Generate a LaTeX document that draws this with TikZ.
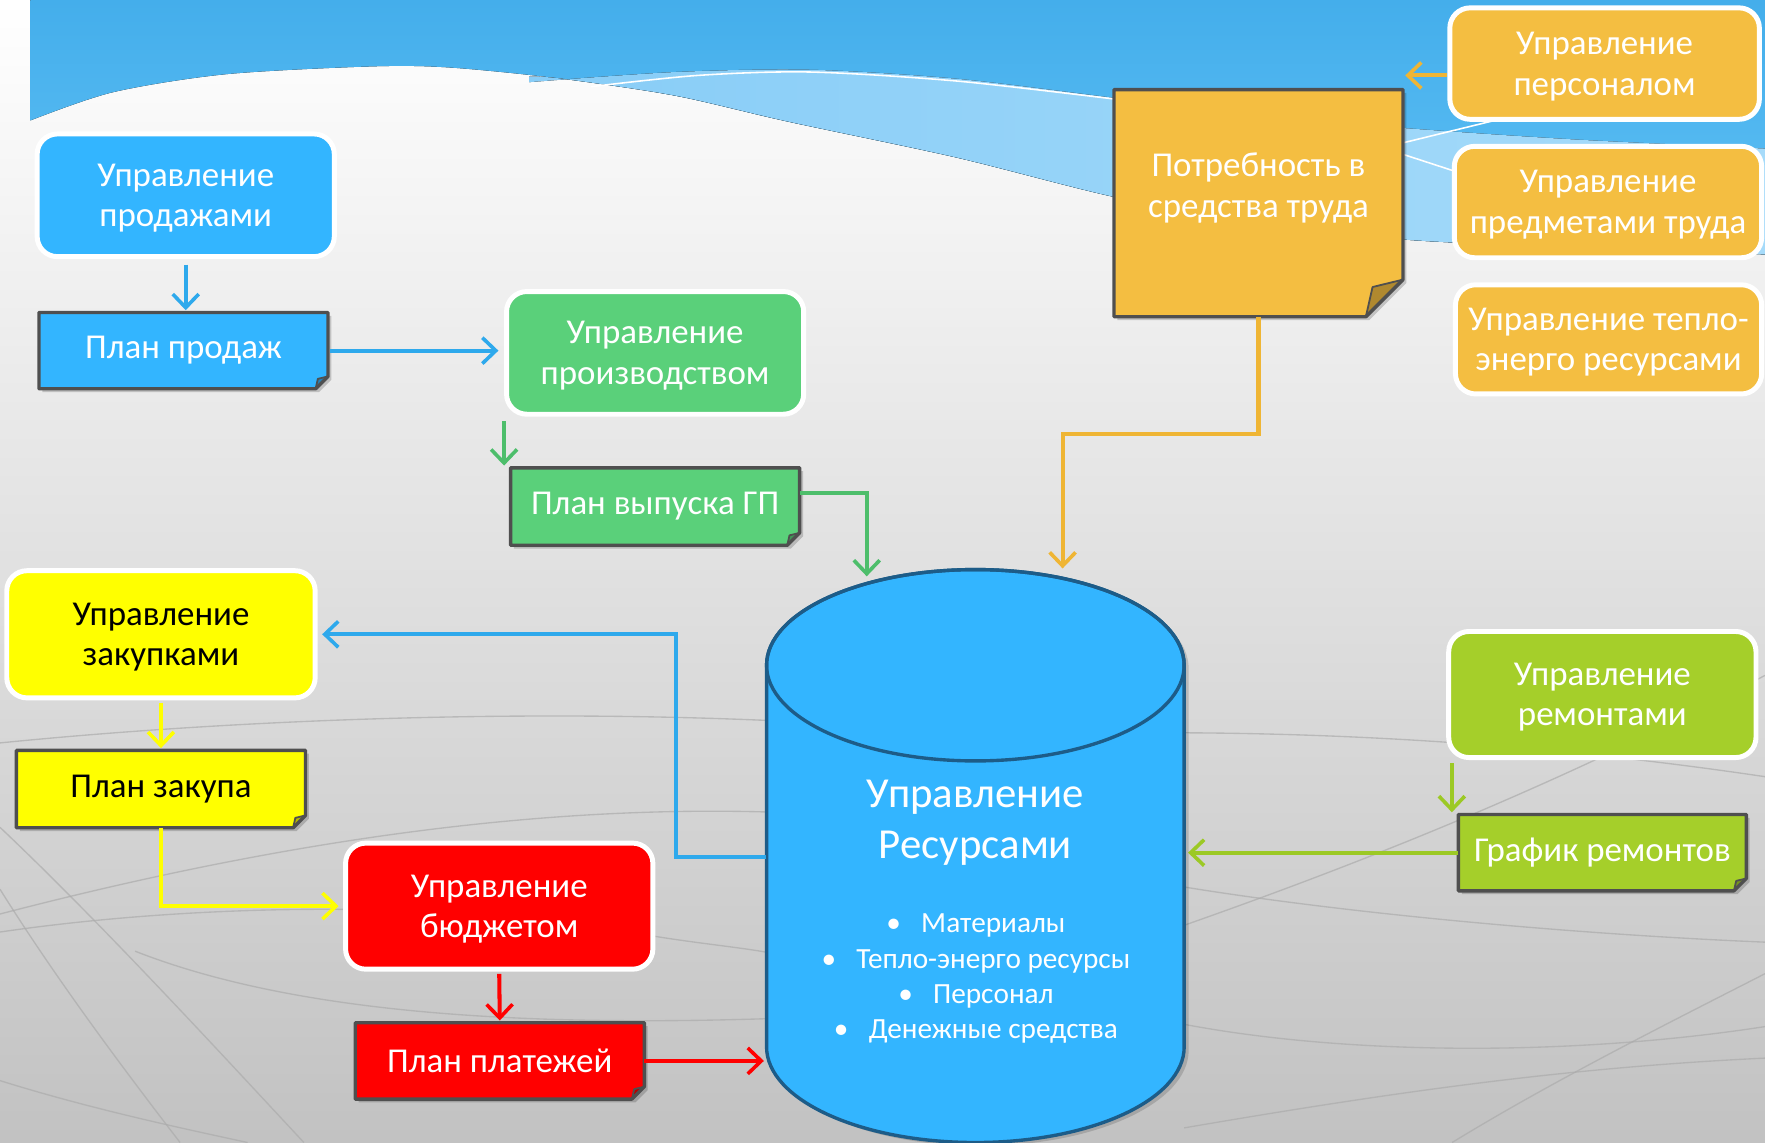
\documentclass[tikz,border=0pt]{standalone}
\usepackage{fontspec}
\setmainfont{Carlito}
\usetikzlibrary{arrows.meta,calc}
\definecolor{skyb}{HTML}{33B5FF}
\definecolor{grn}{HTML}{5AD07A}
\definecolor{orng}{HTML}{F4BE41}
\definecolor{ylw}{HTML}{FFFF00}
\definecolor{rd}{HTML}{FF0000}
\definecolor{lime}{HTML}{A5CF2A}
\definecolor{edgegr}{HTML}{4F4F4F}
\definecolor{cyledge}{HTML}{1D5C88}
\definecolor{topblue}{HTML}{44AEEB}
\definecolor{midblue}{HTML}{5EC0F5}
\definecolor{banda}{HTML}{88CDF7}
\definecolor{bandb}{HTML}{A6DBFA}
\definecolor{arrb}{HTML}{2EA9EC}
\definecolor{arrg}{HTML}{4DBE6B}
\definecolor{arro}{HTML}{EFB534}
\definecolor{arrl}{HTML}{9CC925}
\pgfdeclarelayer{bg}
\pgfdeclarelayer{shp}
\pgfsetlayers{bg,shp,main}
\newcommand\drawnote[3]{%
  \fill[black,opacity=0.18] ([xshift=1.5pt,yshift=-1.5pt]#1.north west) -- ([xshift=1.5pt,yshift=-1.5pt]#1.north east) -- ([xshift=1.5pt,yshift=#3-1.5pt]#1.south east) -- ([xshift=1.5pt-#3,yshift=-1.5pt]#1.south east) -- ([xshift=1.5pt,yshift=-1.5pt]#1.south west) -- cycle;
  \fill[#2] (#1.north west) -- (#1.north east) -- ([yshift=#3]#1.south east) -- ([xshift=-#3]#1.south east) -- (#1.south west) -- cycle;
  \filldraw[fill=#2!72!black, draw=edgegr, line width=0.8pt, line join=round] ([yshift=#3]#1.south east) -- ([xshift=-0.82*#3,yshift=0.8*#3]#1.south east) -- ([xshift=-#3]#1.south east) -- cycle;
  \draw[edgegr, line width=1.5pt, line join=round] (#1.north west) -- (#1.north east) -- ([yshift=#3]#1.south east) -- ([xshift=-#3]#1.south east) -- (#1.south west) -- cycle;
}
\begin{document}
\begin{tikzpicture}[x=0.5pt, y=-0.5pt,
  sz/.style 2 args={minimum width=#1*0.5pt, minimum height=#2*0.5pt},
  txt/.style={align=center, text=white, font=\fontsize{15.5}{18}\selectfont, inner sep=0pt},
  rbox/.style={txt, draw=white, line width=2.2pt, rounded corners=9pt, text depth=-0.7pt},
  nbox/.style={txt},
  link/.style={line width=1.8pt, -{Straight Barb[length=6pt,width=11.5pt,line width=1.6pt]}},
  deco/.style={gray!65, line width=0.6pt, opacity=0.7}]
\useasboundingbox (0,0) rectangle (1568,1015);

% ---------- background ----------
\begin{pgfonlayer}{bg}
\shade[top color=white, middle color=black!4, bottom color=black!24] (0,0) rectangle (1568,1015);
\fill[top color=topblue, bottom color=midblue] (27,0) -- (1568,0) -- (1568,226)
  -- plot[smooth] coordinates {(1568,226) (1400,220) (1250,213) (1120,199) (990,175) (850,140) (700,108) (600,85) (500,70) (400,60) (330,59) (200,66) (100,82) (27,107)} -- cycle;
\fill[left color=banda, right color=bandb]
  plot[smooth] coordinates {(470,73) (600,64) (720,62) (850,70) (990,87) (1120,103) (1250,114) (1400,124) (1568,132)}
  -- (1568,226)
  -- plot[smooth] coordinates {(1568,226) (1400,220) (1250,213) (1120,199) (990,175) (850,140) (700,108) (600,85) (500,70) (470,68)} -- cycle;
\draw[white, line width=0.7pt] plot[smooth] coordinates {(525,77) (620,67) (720,64) (850,72) (990,88)};
\draw[white, line width=0.7pt] (1246,127) -- (1336,105);
\draw[white, line width=0.7pt] (1246,137) -- (1292,152);
% grey decorative curves
\draw[deco] (0,735) .. controls (90,820) and (200,940) .. (270,1015);
\draw[deco] (0,790) .. controls (50,870) and (110,950) .. (160,1015);
\draw[deco] (0,828) .. controls (150,806) and (380,795) .. (583,832) .. controls (620,838) and (660,842) .. (681,846);
\draw[deco] (0,812) .. controls (200,760) and (450,712) .. (700,722);
\draw[deco] (0,960) .. controls (80,985) and (160,1002) .. (220,1015);
\draw[deco] (120,845) .. controls (260,900) and (460,912) .. (681,905);
\draw[deco] (1052,910) .. controls (1200,938) and (1400,938) .. (1568,912);
\draw[deco] (1052,788) .. controls (1200,812) and (1400,830) .. (1568,837);
\draw[deco] (1052,822) .. controls (1200,770) and (1380,700) .. (1568,600);
\draw[deco] (1290,1015) .. controls (1380,960) and (1480,910) .. (1568,865);
\draw[deco] (1052,1002) .. controls (1250,968) and (1400,948) .. (1568,940);
\draw[deco] (1052,651) .. controls (1250,652) and (1420,668) .. (1568,690);
\draw[deco] (0,660) .. controls (200,640) and (450,630) .. (681,640);
\end{pgfonlayer}

% ---------- nodes ----------
\node[rbox, fill=skyb, sz={264}{109}] (sales) at (165,173.5) {Управление\\продажами};
\node[nbox, sz={256}{67}] (planSales) at (163,311.5) {План продаж};
\node[rbox, fill=grn, sz={264}{109}] (prod) at (582,313.5) {Управление\\производством};
\node[nbox, sz={256}{68}] (planGP) at (582,450) {План выпуска ГП};
\node[sz={256}{201}, inner sep=0pt] (need) at (1118,180.5) {};
\node[txt] (needT) at (1118,167) {Потребность в\\средства труда};
\node[rbox, fill=orng, sz={275}{99}] (pers) at (1425.5,56.5) {Управление\\персоналом};
\node[rbox, fill=orng, sz={273}{99}] (subj) at (1428.5,179.5) {Управление\\предметами труда};
\node[rbox, fill=orng, sz={272}{97}] (heat) at (1429,301.5) {Управление тепло-\\энерго ресурсами};
\node[rbox, fill=ylw, text=black, sz={274}{113}] (purch) at (143,563.5) {Управление\\закупками};
\node[nbox, text=black, sz={256}{68}] (planPurch) at (143,701) {План закупа};
\node[rbox, fill=rd, sz={273}{112}] (budget) at (443.5,805) {Управление\\бюджетом};
\node[nbox, sz={256}{67}] (planPay) at (444,942.5) {План платежей};
\node[rbox, fill=lime, sz={273}{112}] (rem) at (1423.5,617) {Управление\\ремонтами};
\node[nbox, sz={255}{67}] (graf) at (1423.5,757.5) {График ремонтов};
\node[sz={371}{508}, inner sep=0pt] (res) at (866.5,761) {};
\node[txt, font=\fontsize{19}{22.5}\selectfont] (resT) at (866.5,731) {Управление\\Ресурсами};
\node[txt, font=\fontsize{13}{15.75}\selectfont] (resL) at (867,869.5)
  {\textbullet\hspace{9pt}Материалы\\\textbullet\hspace{9pt}Тепло-энерго ресурсы\\\textbullet\hspace{9pt}Персонал\\\textbullet\hspace{9pt}Денежные средства};
\coordinate (gpIn) at (770,512);
\coordinate (needIn) at (944,505);

% ---------- shapes behind text ----------
\begin{pgfonlayer}{shp}
\drawnote{planSales}{skyb}{5.5pt}
\drawnote{planGP}{grn}{5.5pt}
\drawnote{need}{orng}{16.5pt}
\drawnote{planPurch}{ylw}{5.5pt}
\drawnote{planPay}{rd}{5.5pt}
\drawnote{graf}{lime}{5.5pt}
% cylinder
\fill[black, opacity=0.15] (685,594) -- (685,933) arc[start angle=180, end angle=360, x radius=92.75pt, y radius=42.5pt] -- (1056,594) arc[start angle=0, end angle=180, x radius=92.75pt, y radius=42.5pt] -- cycle;
\filldraw[fill=skyb, draw=cyledge, line width=1.5pt] (681,591) -- (681,930) arc[start angle=180, end angle=360, x radius=92.75pt, y radius=42.5pt] -- (1052,591) arc[start angle=0, end angle=180, x radius=92.75pt, y radius=42.5pt] -- cycle;
\draw[cyledge, line width=1.5pt] (866.5,591) ellipse[x radius=92.75pt, y radius=42.5pt];
\end{pgfonlayer}

% ---------- connectors ----------
\draw[link, arrb] ([yshift=-2.5pt]sales.south) -- ([yshift=1pt]sales.south |- planSales.north);
\draw[link, arrb] ([xshift=1pt]planSales.east) -- ([xshift=-2.5pt]planSales.east -| prod.west);
\draw[link, arrg] ([yshift=-2pt]prod.south west) -- ([yshift=1pt]prod.south west |- planGP.north);
\draw[link, arrg] ([yshift=6pt]planGP.east) -| (gpIn);
\draw[link, arro] (need.south) -- ++(0,104) -| (needIn);
\draw[link, arro] ([yshift=-5.25pt]pers.west) -- ([yshift=-5.25pt,xshift=1pt]pers.west -| need.east);
\draw[link, arrb] (res.west) -- ++(-80,0) |- ([xshift=2pt]purch.east);
\draw[link, ylw] ([yshift=-1pt]purch.south) -- ([yshift=1pt]planPurch.north);
\draw[link, ylw, line width=2pt] (planPurch.south) |- ([xshift=-2pt]budget.west);
\draw[link, rd] ([yshift=-1pt]budget.south) -- ([yshift=1pt]planPay.north);
\draw[link, rd] (planPay.east) -- ([xshift=-1pt]planPay.east -| res.west);
\draw[link, arrl] ([xshift=2.5pt,yshift=-1.5pt]rem.south west) -- ([xshift=2.5pt,yshift=1pt]rem.south west |- graf.north);
\draw[link, arrl] (graf.west) -- ([xshift=1.5pt]graf.west -| res.east);
\end{tikzpicture}
\end{document}
